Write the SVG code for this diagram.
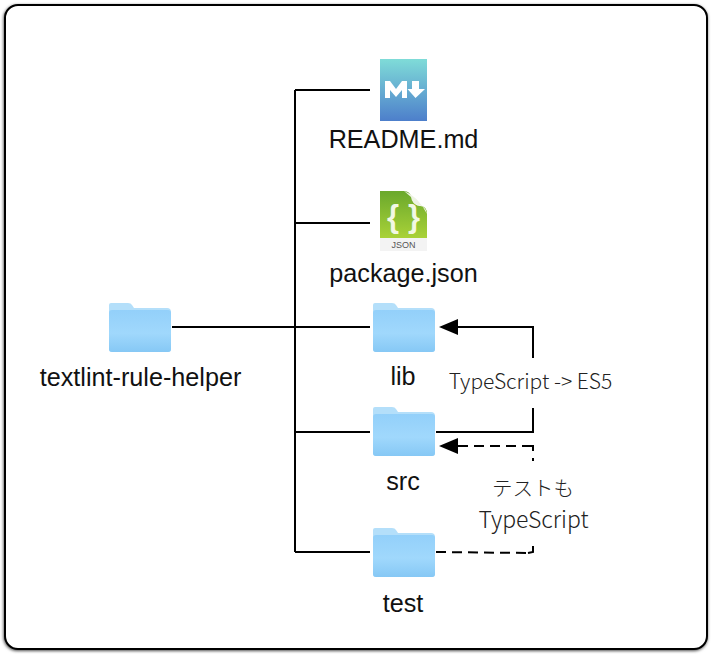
<svg xmlns="http://www.w3.org/2000/svg" width="712" height="654" viewBox="0 0 712 654">
<style>
.l{fill:none;stroke:#000;stroke-width:2}
.d{fill:none;stroke:#000;stroke-width:2;stroke-dasharray:10 6}
.t{font-family:"Liberation Sans",Arial,sans-serif;font-size:25.200px;fill:#111;text-anchor:middle}
.s{font-family:"Noto Sans CJK JP","Liberation Sans",sans-serif;fill:#222;text-anchor:middle;font-weight:300}
</style>
<defs>
<linearGradient id="fb" x1="0" y1="0" x2="0" y2="1"><stop offset="0" stop-color="#93d0fa"/><stop offset=".55" stop-color="#a0d8fc"/><stop offset="1" stop-color="#86c8f5"/></linearGradient>
<linearGradient id="md" x1="0" y1="0" x2="0" y2="1"><stop offset="0" stop-color="#7fdcd8"/><stop offset="1" stop-color="#4d7fcb"/></linearGradient>
<linearGradient id="js" x1="0" y1="0" x2="0" y2="1"><stop offset="0" stop-color="#6aa82c"/><stop offset="1" stop-color="#a9d238"/></linearGradient>
<symbol id="folder" viewBox="0 0 62 49" overflow="visible">
<path d="M2 0H19Q22 0 23 2L25 5H58Q62 5 62 9V46Q62 49 59 49H3Q0 49 0 46V2Q0 0 2 0Z" fill="#b4dffa"/>
<path d="M0 10Q0 7 3 7H59Q62 7 62 10V46Q62 49 59 49H3Q0 49 0 46Z" fill="url(#fb)"/>
</symbol>
<filter id="sh" x="-5%" y="-5%" width="110%" height="110%"><feDropShadow dx="-0.5" dy="1" stdDeviation="1.500" flood-color="#000" flood-opacity=".7"/></filter>
</defs>
<rect width="712" height="654" fill="#fff"/>
<rect x="5" y="5" width="702" height="644" rx="13" fill="#fff" stroke="#000" stroke-width="2" filter="url(#sh)"/>
<g id="connectors">
<path class="l" d="M172 327H370M295 90V552M295 90H370M295 223H370M295 432H370M295 552H370"/>
<path class="l" d="M436 432H533V408M533 358V327H456"/>
<path d="M439 327L458 319V335Z"/>
<path class="d" d="M436 552L528 553"/>
<path class="l" d="M528 553L533 552V546"/>
<path class="d" d="M458 446H528"/>
<path class="l" d="M528 446H533V451M533 458V461"/>
<path d="M439 446L458 438V454Z"/>
</g>
<g id="readme">
<rect x="380" y="59" width="47" height="62" fill="url(#md)"/>
<text class="t" x="403.500" y="148">README.md</text>
<path d="M385 98V81H390L396 89L402 81H407V98H402V90L396 97L390 90V98Z" fill="#fff"/>
<path d="M412 81H419V89H425L415.500 98L407.500 89H412Z" fill="#fff"/>
</g>
<g id="package">
<path d="M380 191H404Q410 191 412 198Q414 206 420 206Q427 206 427 214V238H380Z" fill="url(#js)"/>
<path d="M404 191Q418 196 427 214Q426 206 418 205Q412 204 411 197Z" fill="#eef3e4"/>
<rect x="380" y="238" width="47" height="13" fill="#f3f3f3"/>
<text x="403.500" y="248" font-family="'Liberation Sans',sans-serif" font-size="9" fill="#555" text-anchor="middle">JSON</text>
<text x="393" y="227" font-family="'Liberation Sans',sans-serif" font-size="31" font-weight="bold" fill="#f2f8e4" text-anchor="middle">{</text>
<text x="414" y="227" font-family="'Liberation Sans',sans-serif" font-size="31" font-weight="bold" fill="#f2f8e4" text-anchor="middle">}</text>
<text class="t" x="403.500" y="282">package.json</text>
</g>
<g id="root">
<use href="#folder" x="109" y="303" width="62" height="49"/>
<text class="t" x="140.500" y="386">textlint-rule-helper</text>
</g>
<g id="lib">
<use href="#folder" x="373" y="303" width="62" height="49"/>
<text class="t" x="403" y="385">lib</text>
</g>
<g id="src">
<use href="#folder" x="373" y="407" width="62" height="49"/>
<text class="t" x="403" y="490">src</text>
</g>
<g id="test">
<use href="#folder" x="373" y="528" width="62" height="49"/>
<text class="t" x="403" y="612">test</text>
</g>
<g id="labels">
<text class="s" x="530.500" y="389" font-size="21">TypeScript -&gt; ES5</text>
<text class="s" x="533" y="496" font-size="20.500">テストも</text>
<text class="s" x="533.500" y="528" font-size="23">TypeScript</text>
</g>
</svg>
